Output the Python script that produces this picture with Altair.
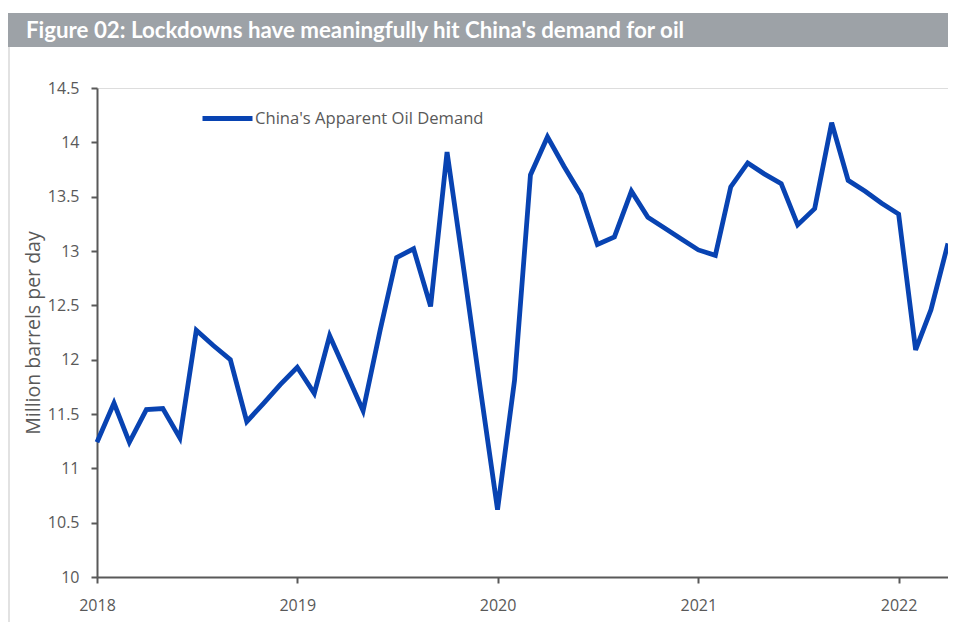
import altair as alt
import pandas as pd

title_text = "Figure 02: Lockdowns have meaningfully hit China's demand for oil"
series_name = "China's Apparent Oil Demand"
y_title = "Million barrels per day"

months = [f"{y}-{m:02d}-01T00:00:00" for y in range(2018, 2023) for m in range(1, 13)][:52]

demand = [
    # 2018
    11.24, 11.60, 11.24, 11.54, 11.55, 11.28, 12.27, 12.13, 12.00, 11.43, 11.60, 11.77,
    # 2019
    11.93, 11.69, 12.22, 11.87, 11.53, 12.27, 12.94, 13.02, 12.49, 13.91, 12.81, 11.72,
    # 2020
    10.62, 11.81, 13.70, 14.05, 13.78, 13.52, 13.06, 13.13, 13.55, 13.31, 13.21, 13.11,
    # 2021
    13.01, 12.96, 13.59, 13.81, 13.71, 13.62, 13.24, 13.39, 14.18, 13.65, 13.55, 13.44,
    # 2022
    13.34, 12.09, 12.46, 13.07,
]

year_ticks = [2018, 2019, 2020, 2021, 2022]
y_ticks = [10, 10.5, 11, 11.5, 12, 12.5, 13, 13.5, 14, 14.5]

df = pd.DataFrame({"date": months, "value": demand, "series": [series_name] * len(demand)})

W, H = 851, 489
FONT = "Open Sans"
GREY = "#595959"
BLUE = "#0843b2"

line = alt.Chart(df).mark_line(strokeWidth=4.8, strokeJoin="miter").encode(
    x=alt.X(
        "date:T",
        scale=alt.Scale(domain=[alt.DateTime(year=2018, month=1, date=1),
                                alt.DateTime(year=2022, month=4, date=1)]),
        axis=alt.Axis(
            values=[alt.DateTime(year=y, month=1, date=1) for y in year_ticks],
            format="%Y", title=None, grid=False,
            domainColor=GREY, domainWidth=2, tickColor=GREY, tickWidth=2, tickSize=6,
            labelColor=GREY, labelFontSize=16, labelFont=FONT, labelPadding=14,
            labelFlush=False,
        ),
    ),
    y=alt.Y(
        "value:Q",
        scale=alt.Scale(domain=[10, 14.5], nice=False, zero=False),
        axis=alt.Axis(
            values=y_ticks, format="~g", title=y_title, grid=False,
            domainColor=GREY, domainWidth=2, tickColor=GREY, tickWidth=2, tickSize=6,
            labelColor=GREY, labelFontSize=16, labelFont=FONT, labelPadding=12,
            titleColor=GREY, titleFontSize=19.5, titleFont=FONT, titleFontWeight="normal",
            titlePadding=4,
        ),
    ),
    color=alt.Color(
        "series:N",
        scale=alt.Scale(range=[BLUE]),
        legend=alt.Legend(
            title=None, orient="none", legendX=103, legendY=3,
            symbolType="stroke", symbolSize=2500, symbolStrokeWidth=4.8,
            labelFont=FONT, labelFontSize=16.6, labelColor=GREY, labelOffset=0,
            labelLimit=400,
        ),
    ),
)

bar = alt.Chart(pd.DataFrame({"a": [0]})).mark_rect(color="#9da2a7").encode(
    x=alt.value(-89), x2=alt.value(W), y=alt.value(-75), y2=alt.value(-41)
)

title = alt.Chart(pd.DataFrame({"t": [title_text]})).mark_text(
    align="left", baseline="alphabetic", color="white", font="Lato",
    fontSize=22.3, fontWeight="bold"
).encode(text="t:N", x=alt.value(-71), y=alt.value(-50))

border = alt.Chart(pd.DataFrame({"a": [0]})).mark_rule(color="#d9d9d9", strokeWidth=1.5).encode(
    x=alt.value(-88), y=alt.value(-41), y2=alt.value(H + 45)
)

chart = alt.layer(bar, border, title, line).properties(
    width=W, height=H,
    autosize=alt.AutoSizeParams(type="none"),
    padding={"left": 89, "top": 80, "right": 0, "bottom": 45},
).configure_view(stroke=None).configure(background="white")

chart.save("out.html", embed_options={"renderer": "svg", "actions": False})
